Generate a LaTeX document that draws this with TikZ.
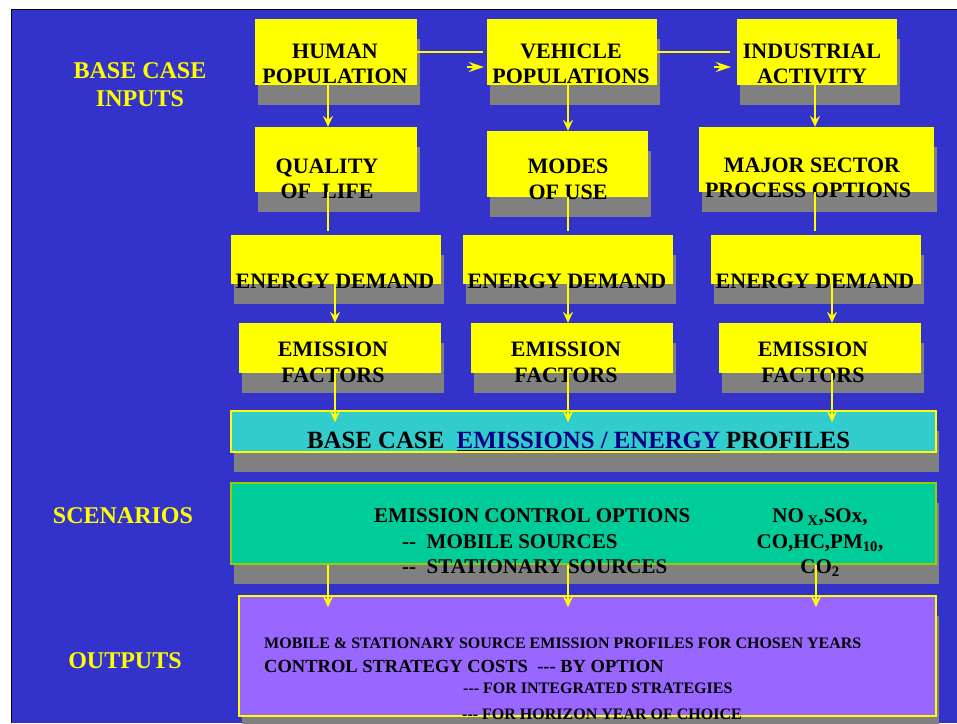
\documentclass[tikz,border=0pt]{standalone}
\usepackage{fontspec}
\setmainfont{Liberation Serif}
\usetikzlibrary{arrows.meta,calc,shadows}
\definecolor{bgblue}{HTML}{3333CC}
\definecolor{ylw}{HTML}{FFFF00}
\definecolor{shgray}{HTML}{808080}
\definecolor{cyanbox}{HTML}{33CCCC}
\definecolor{greenbox}{HTML}{00CC99}
\definecolor{purplebox}{HTML}{9966FF}
\definecolor{navyblue}{HTML}{000080}
\definecolor{scborder}{HTML}{99CC00}
\newcommand\fz[1]{\fontsize{#1}{#1}\selectfont\bfseries}
\newcommand\hy{\hbox{-}}
\newcommand\myul[1]{\setbox0\hbox{#1}\rlap{\color{navyblue}\rule[-2.5pt]{\wd0}{1pt}}\box0}
\tikzset{
  sh/.style={drop shadow={shadow xshift=3pt, shadow yshift=-20pt, opacity=1, fill=shgray}},
  ybox/.style={sh, fill=ylw, draw=none, inner sep=0pt},
  wide/.style={sh, inner sep=0pt, line width=1.6pt},
  txt/.style={font=\fz{22}, text=black, inner sep=0pt, anchor=base},
  lbl/.style={font=\fz{24}, text=ylw, inner sep=0pt, anchor=base},
  conn/.style={draw=ylw, line width=2pt},
  tipv/.style={-{Stealth[length=11pt,width=10pt,inset=4pt]}},
  tiph/.style={-{Stealth[length=15pt,width=10pt,inset=5pt]}}
}
\begin{document}
\begin{tikzpicture}[x=1pt,y=-1pt]
\useasboundingbox (0,0) rectangle (957,723);
\clip (0,0) rectangle (957,723);
\fill[white] (0,0) rectangle (957,723);
\fill[bgblue] (12,10) rectangle (957,723);
\draw[black, line width=1.3pt] (11.5,723) -- (11.5,9.5) -- (957,9.5);

% side labels
\node[lbl] (l1) at (140,78) {BASE CASE};
\node[lbl] (l2) at (140,106) {INPUTS};
\node[lbl] (l3) at (123,523) {SCENARIOS};
\node[lbl] (l4) at (125,668) {OUTPUTS};

% row 1
\node[ybox, minimum width=162, minimum height=66] (hp) at (336,52) {};
\node[ybox, minimum width=170, minimum height=66] (vp) at (572,52) {};
\node[ybox, minimum width=160, minimum height=66] (ia) at (817,52) {};
% row 2
\node[ybox, minimum width=162, minimum height=65] (ql) at (336,159.5) {};
\node[ybox, minimum width=161, minimum height=66] (mu) at (567.5,164) {};
\node[ybox, minimum width=235, minimum height=65] (mj) at (816.5,159.5) {};
% row 3
\node[ybox, minimum width=210, minimum height=49] (ed1) at (336,259.5) {};
\node[ybox, minimum width=210, minimum height=49] (ed2) at (568,259.5) {};
\node[ybox, minimum width=210, minimum height=49] (ed3) at (816,259.5) {};
% row 4
\node[ybox, minimum width=202, minimum height=50] (ef1) at (340,348) {};
\node[ybox, minimum width=202, minimum height=50] (ef2) at (572,348) {};
\node[ybox, minimum width=202, minimum height=50] (ef3) at (820,348) {};
% wide boxes
\node[wide, fill=cyanbox, draw=ylw, minimum width=705, minimum height=41] (base) at (583.5,431.5) {};
\node[wide, fill=greenbox, draw=scborder, minimum width=705, minimum height=81] (scen) at (583.5,523.5) {};
\node[wide, fill=purplebox, draw=ylw, minimum width=697, minimum height=120] (out) at (587.5,656) {};

% texts
\node[txt] (t1a) at (335,58) {HUMAN};
\node[txt] (t1b) at (335,83) {POPULATION};
\node[txt] (t2a) at (571,58) {VEHICLE};
\node[txt] (t2b) at (571,83) {POPULATIONS};
\node[txt] (t3a) at (812,58) {INDUSTRIAL};
\node[txt] (t3b) at (812,83) {ACTIVITY};
\node[txt] (t4a) at (327,173) {QUALITY};
\node[txt] (t4b) at (327,198) {OF\ \ LIFE};
\node[txt] (t5a) at (568,173) {MODES};
\node[txt] (t5b) at (568,199) {OF USE};
\node[txt] (t6a) at (812,172) {MAJOR SECTOR};
\node[txt] (t6b) at (808,197) {PROCESS OPTIONS};
\node[txt] (t7) at (335,288) {ENERGY DEMAND};
\node[txt] (t8) at (567,288) {ENERGY DEMAND};
\node[txt] (t9) at (815,288) {ENERGY DEMAND};
\node[txt] (t10a) at (333,356) {EMISSION};
\node[txt] (t10b) at (333,382) {FACTORS};
\node[txt] (t11a) at (566,356) {EMISSION};
\node[txt] (t11b) at (566,382) {FACTORS};
\node[txt] (t12a) at (813,356) {EMISSION};
\node[txt] (t12b) at (813,382) {FACTORS};
\node[txt, font=\fz{24.8}, anchor=base west] (tb) at (307,448) {BASE CASE\ \ \textcolor{navyblue}{\myul{EMISSIONS / ENERGY}} PROFILES};
\node[txt, font=\fz{21}, anchor=base west] (ts1) at (374,522) {EMISSION CONTROL OPTIONS};
\node[txt, font=\fz{21}, anchor=base west] (ts2) at (402,548) {\hy\hy\ \ MOBILE SOURCES};
\node[txt, font=\fz{21}, anchor=base west] (ts3) at (402,573) {\hy\hy\ \ STATIONARY SOURCES};
\node[txt, font=\fz{21}] (tn1) at (820,522) {NO\,\textsubscript{X},SOx,};
\node[txt, font=\fz{21}] (tn2) at (820,548) {CO,HC,PM\textsubscript{10},};
\node[txt, font=\fz{21}] (tn3) at (820,573) {CO\textsubscript{2}};
\node[txt, font=\fz{16}, anchor=base west] (to1) at (264,648) {MOBILE \& STATIONARY SOURCE EMISSION PROFILES FOR CHOSEN YEARS};
\node[txt, font=\fz{18.5}, anchor=base west] (to2) at (264,672) {CONTROL STRATEGY COSTS\ \ \hy\hy\hy\ BY OPTION};
\node[txt, font=\fz{16}, anchor=base west] (to3) at (463,693) {\hy\hy\hy\ FOR INTEGRATED STRATEGIES};
\node[txt, font=\fz{16}, anchor=base west] (to4) at (462,719) {\hy\hy\hy\ FOR HORIZON YEAR OF CHOICE};

% column x positions
\coordinate (xA) at (328,0);
\coordinate (xB) at (568,0);
\coordinate (xC) at (815,0);
\coordinate (xD) at (335,0);
\coordinate (xE) at (832,0);
\coordinate (xF) at (816,0);

% horizontal connectors
\draw[conn] (hp.east) -- ($(vp.west)+(-4,0)$);
\draw[conn, tiph] ($(vp.west)+(-20,15)$) -- ($(vp.west)+(-3,15)$);
\draw[conn] (vp.east) -- ($(ia.west)+(-7,0)$);
\draw[conn, tiph] ($(ia.west)+(-23,15)$) -- ($(ia.west)+(-6,15)$);

% column 1
\draw[conn, tipv] (hp.south -| xA) -- (ql.north -| xA);
\draw[conn] (ql.south -| xA) -- ($(ed1.north -| xA)+(0,-4)$);
\draw[conn, tipv] (ed1.south -| xD) -- (ef1.north -| xD);
\draw[conn, tipv] (ef1.south -| xD) -- ($(base.north -| xD)+(0,12)$);
% column 2
\draw[conn, tipv] (vp.south -| xB) -- (mu.north -| xB);
\draw[conn] (mu.south -| xB) -- ($(ed2.north -| xB)+(0,-4)$);
\draw[conn, tipv] (ed2.south -| xB) -- (ef2.north -| xB);
\draw[conn, tipv] (ef2.south -| xB) -- ($(base.north -| xB)+(0,12)$);
% column 3
\draw[conn, tipv] (ia.south -| xC) -- (mj.north -| xC);
\draw[conn] (mj.south -| xC) -- ($(ed3.north -| xC)+(0,-4)$);
\draw[conn, tipv] (ed3.south -| xE) -- (ef3.north -| xE);
\draw[conn, tipv] (ef3.south -| xE) -- ($(base.north -| xE)+(0,12)$);
% scenarios to outputs
\draw[conn, tipv] (scen.south -| xA) -- ($(out.north -| xA)+(0,12)$);
\draw[conn, tipv] (scen.south -| xB) -- ($(out.north -| xB)+(0,12)$);
\draw[conn, tipv] (scen.south -| xF) -- ($(out.north -| xF)+(0,12)$);
\end{tikzpicture}
\end{document}
